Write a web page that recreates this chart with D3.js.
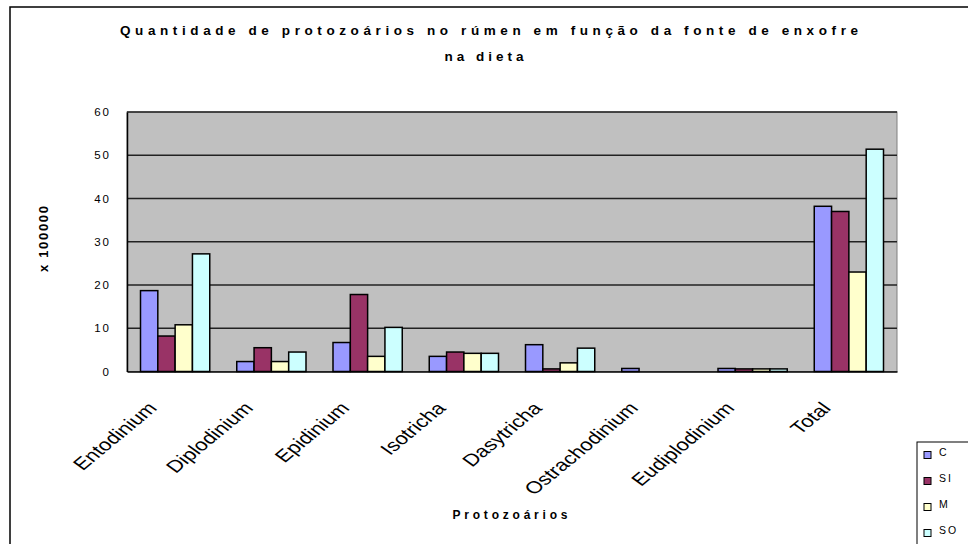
<!DOCTYPE html>
<head>
  <meta charset="utf-8">
  <script src="https://d3js.org/d3.v7.min.js"></script>
  <style>
    body { margin: 0; background: #fff; }
    svg { display: block; font-family: "Liberation Sans", Arial, sans-serif; }
  </style>
</head>
<body>
  <svg width="968" height="544"></svg>
  <script>
    // protozoa counts (x 100000) by sulphur source
    var categories = ['Entodinium', 'Diplodinium', 'Epidinium', 'Isotricha', 'Dasytricha', 'Ostrachodinium', 'Eudiplodinium', 'Total'];
    var seriesNames = ['C', 'SI', 'M', 'SO'];
    var C = [18.7, 2.3, 6.7, 3.5, 6.2, 0.7, 0.7, 38.2];
    var SI = [8.2, 5.5, 17.8, 4.5, 0.6, 0, 0.6, 37.0];
    var M = [10.8, 2.3, 3.5, 4.2, 2.0, 0, 0.6, 23.0];
    var SO = [27.2, 4.5, 10.2, 4.2, 5.4, 0, 0.6, 51.4];
    var yTicks = [0, 10, 20, 30, 40, 50, 60];
    var colors = ['#9999ff', '#993366', '#ffffcc', '#ccffff'];

    var series = [C, SI, M, SO];
    var plot = { left: 127, right: 897, top: 112, bottom: 371.5 };

    var svg = d3.select('svg');

    // outer chart frame
    svg.append('rect')
      .attr('x', 10).attr('y', 7)
      .attr('width', 980).attr('height', 560)
      .attr('fill', '#fff').attr('stroke', '#000').attr('stroke-width', 1.5);

    var xScale = d3.scaleBand()
      .domain(categories)
      .range([plot.left, plot.right]);
    var innerScale = d3.scaleBand()
      .domain(seriesNames)
      .range([13.5, xScale.bandwidth() - 13.5]);
    var yScale = d3.scaleLinear()
      .domain([0, 60])
      .range([plot.bottom, plot.top]);

    // plot background
    svg.append('rect')
      .attr('x', plot.left).attr('y', plot.top)
      .attr('width', plot.right - plot.left).attr('height', plot.bottom - plot.top)
      .attr('fill', '#c0c0c0').attr('stroke', '#808080');

    // gridlines
    svg.append('g')
      .selectAll('line')
      .data(yTicks.slice(1))
      .enter()
      .append('line')
      .attr('x1', plot.left).attr('x2', plot.right)
      .attr('y1', function (d) { return yScale(d); })
      .attr('y2', function (d) { return yScale(d); })
      .attr('stroke', '#222').attr('stroke-width', 1.5);

    // bars
    var groups = svg.append('g')
      .selectAll('g')
      .data(series)
      .enter()
      .append('g')
      .attr('fill', function (d, i) { return colors[i]; });

    groups.selectAll('rect')
      .data(function (d, i) {
        return d.map(function (v, j) { return { s: seriesNames[i], c: categories[j], v: v }; });
      })
      .enter()
      .append('rect')
      .filter(function (d) { return d.v > 0; })
      .attr('x', function (d) { return xScale(d.c) + innerScale(d.s); })
      .attr('width', innerScale.bandwidth())
      .attr('y', function (d) { return yScale(d.v); })
      .attr('height', function (d) { return plot.bottom - yScale(d.v); })
      .attr('stroke', '#000').attr('stroke-width', 1.5);

    // axes
    var yAxis = svg.append('g')
      .attr('transform', 'translate(' + plot.left + ',0)')
      .call(d3.axisLeft(yScale).tickValues(yTicks).tickSize(0).tickPadding(16));
    yAxis.select('.domain').attr('stroke', '#000').attr('stroke-width', 1.5);
    yAxis.selectAll('text')
      .attr('font-size', 11.5).attr('letter-spacing', 2).attr('fill', '#000')
      .attr('font-family', '"Liberation Sans", Arial, sans-serif');

    var xAxis = svg.append('g')
      .attr('transform', 'translate(0,' + plot.bottom + ')')
      .call(d3.axisBottom(xScale).tickSize(0).tickFormat(''));
    xAxis.select('.domain').attr('stroke', '#000').attr('stroke-width', 1.5);

    // rotated category labels
    svg.append('g')
      .selectAll('text')
      .data(categories)
      .enter()
      .append('text')
      .attr('transform', function (d) {
        var cx = xScale(d) + xScale.bandwidth() / 2 - 17;
        return 'translate(' + cx + ',409) scale(1.3,1) rotate(-47)';
      })
      .attr('text-anchor', 'end')
      .attr('font-size', 17)
      .text(function (d) { return d; });

    // title
    svg.append('text')
      .attr('x', 489).attr('y', 35)
      .attr('text-anchor', 'middle')
      .attr('font-size', 13.5).attr('font-weight', 'bold')
      .attr('textLength', 738).attr('lengthAdjust', 'spacing')
      .text('Quantidade de protozoários no rúmen em função da fonte de enxofre');
    svg.append('text')
      .attr('x', 486).attr('y', 61)
      .attr('text-anchor', 'middle')
      .attr('font-size', 13.5).attr('font-weight', 'bold')
      .attr('letter-spacing', 4)
      .text('na dieta');

    // axis titles
    svg.append('text')
      .attr('transform', 'translate(48,239) rotate(-90)')
      .attr('text-anchor', 'middle')
      .attr('font-size', 13).attr('font-weight', 'bold')
      .attr('textLength', 66).attr('lengthAdjust', 'spacing')
      .text('x 100000');
    svg.append('text')
      .attr('x', 510).attr('y', 519)
      .attr('text-anchor', 'middle')
      .attr('font-size', 12).attr('font-weight', 'bold')
      .attr('textLength', 115).attr('lengthAdjust', 'spacing')
      .text('Protozoários');

    // legend
    var legend = svg.append('g');
    legend.append('rect')
      .attr('x', 917).attr('y', 442)
      .attr('width', 80).attr('height', 120)
      .attr('fill', '#fff').attr('stroke', '#000');
    var items = legend.selectAll('g.item')
      .data(seriesNames)
      .enter()
      .append('g')
      .attr('class', 'item')
      .attr('transform', function (d, i) { return 'translate(924,' + (455 + i * 26) + ')'; });
    items.append('rect')
      .attr('x', 0).attr('y', -3.5)
      .attr('width', 7).attr('height', 7)
      .attr('fill', function (d, i) { return colors[i]; })
      .attr('stroke', '#000');
    items.append('text')
      .attr('x', 15).attr('y', 0).attr('dy', '0.1em')
      .attr('font-size', 10.5).attr('letter-spacing', 2)
      .text(function (d) { return d; });
  </script>
</body>
